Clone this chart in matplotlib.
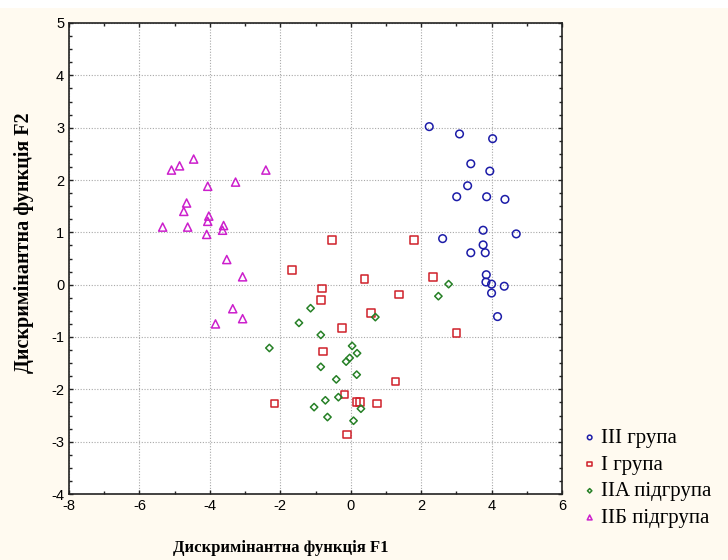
import matplotlib
matplotlib.use("Agg")
import matplotlib.pyplot as plt
from matplotlib.ticker import MultipleLocator
from matplotlib.patches import Rectangle

plt.rcParams["axes.unicode_minus"] = False

# Group III (circles)
g3_x = [2.23, 3.09, 4.03, 3.41, 3.95, 3.32, 3.01, 3.86, 4.38, 3.76, 4.70, 2.61,
        3.76, 3.41, 3.82, 3.85, 3.84, 4.00, 4.36, 4.00, 4.17]
g3_y = [3.02, 2.88, 2.79, 2.31, 2.17, 1.89, 1.68, 1.68, 1.63, 1.04, 0.97, 0.88,
        0.76, 0.61, 0.61, 0.19, 0.05, 0.01, -0.03, -0.16, -0.61]

# Group I (squares)
g1_x = [-0.54, 1.80, -1.67, 0.39, 2.33, -0.82, -0.85, 1.37, 0.58, -0.24, 3.00,
        -0.78, 1.27, -0.18, -2.16, 0.16, 0.26, 0.74, -0.10]
g1_y = [0.85, 0.85, 0.28, 0.11, 0.15, -0.07, -0.29, -0.19, -0.54, -0.83, -0.92,
        -1.28, -1.85, -2.10, -2.27, -2.24, -2.24, -2.27, -2.86]

# Subgroup IIA (diamonds)
g2a_x = [2.78, 2.49, -1.14, -1.47, 0.70, -0.85, -2.31, 0.04, 0.18, -0.03, -0.13,
         -0.85, 0.17, -0.41, -0.72, -0.35, -1.04, 0.29, -0.66, 0.08]
g2a_y = [0.01, -0.22, -0.45, -0.73, -0.62, -0.96, -1.21, -1.17, -1.31, -1.40,
         -1.47, -1.57, -1.72, -1.81, -2.21, -2.15, -2.34, -2.37, -2.53, -2.60]

# Subgroup IIB (triangles)
g2b_x = [-4.46, -4.86, -5.09, -2.41, -4.06, -3.27, -4.66, -4.74, -4.03, -4.06,
         -3.61, -3.64, -5.34, -4.63, -4.09, -3.52, -3.07, -3.35, -3.07, -3.84]
g2b_y = [2.40, 2.27, 2.19, 2.19, 1.88, 1.96, 1.56, 1.40, 1.31, 1.21,
         1.13, 1.04, 1.10, 1.10, 0.96, 0.48, 0.15, -0.46, -0.65, -0.75]

labels = ["III група", "I група", "IIA підгрупа", "IIБ підгрупа"]
x_ticks = [-8, -6, -4, -2, 0, 2, 4, 6]
y_ticks = [-4, -3, -2, -1, 0, 1, 2, 3, 4, 5]

bg = "#FFFAF0"
fig = plt.figure(figsize=(7.28, 5.60), dpi=100, facecolor=bg)
fig.patches.append(Rectangle((0, 1 - 8 / 560), 1, 8 / 560, transform=fig.transFigure,
                             facecolor="white", edgecolor="none", zorder=0))
ax = fig.add_axes([69 / 728, 1 - 494 / 560, (562 - 69) / 728, (494 - 23) / 560])
ax.set_facecolor("white")

series = [
    (g3_x, g3_y, "o", "#1C1CA8", 30),
    (g1_x, g1_y, "s", "#D0202A", 30),
    (g2a_x, g2a_y, "D", "#268026", 14),
    (g2b_x, g2b_y, "^", "#CC1FCC", 34),
]
for (xs, ys, m, c, s), lab in zip(series, labels):
    ax.scatter(xs, ys, marker=m, s=s, facecolors="none", edgecolors=c,
               linewidths=1.1, label=lab, zorder=3)

ax.set_xlim(-8, 6)
ax.set_ylim(-4, 5)
ax.set_xticks(x_ticks)
ax.set_yticks(y_ticks)
ax.xaxis.set_minor_locator(MultipleLocator(1))
ax.yaxis.set_minor_locator(MultipleLocator(0.25))
ax.tick_params(which="both", direction="in", top=True, right=True,
               labelsize=10.5, width=1, color="#222222")
ax.tick_params(which="major", length=3)
ax.tick_params(which="minor", length=2)
for lab in ax.get_xticklabels() + ax.get_yticklabels():
    lab.set_fontfamily("Liberation Sans")
ax.grid(True, which="major", linestyle=(0, (1, 1.5)), color="#A8A8A8", linewidth=0.8)
for sp in ax.spines.values():
    sp.set_linewidth(1.2)
    sp.set_color("#222222")

ax.set_xlabel("Дискримінантна функція F1", fontfamily="Liberation Serif",
              fontweight="bold", fontsize=12, va="center", ha="center")
ax.xaxis.set_label_coords((281 - 69) / 493, -(548 - 494) / 471)
ax.set_ylabel("Дискримінантна функція F2", fontfamily="Liberation Serif",
              fontweight="bold", fontsize=14.5, va="center", ha="center")
ax.yaxis.set_label_coords((24 - 69) / 493, (494 - 243) / 471)

leg = fig.legend(loc="upper left", bbox_to_anchor=(573 / 728, 1 - 420 / 560),
                 frameon=False, prop={"family": "Liberation Serif", "size": 15},
                 markerscale=0.6, handletextpad=0.13, labelspacing=0.34,
                 handlelength=0.8, borderaxespad=0)

fig.savefig("out.png", dpi=100, facecolor=bg)
